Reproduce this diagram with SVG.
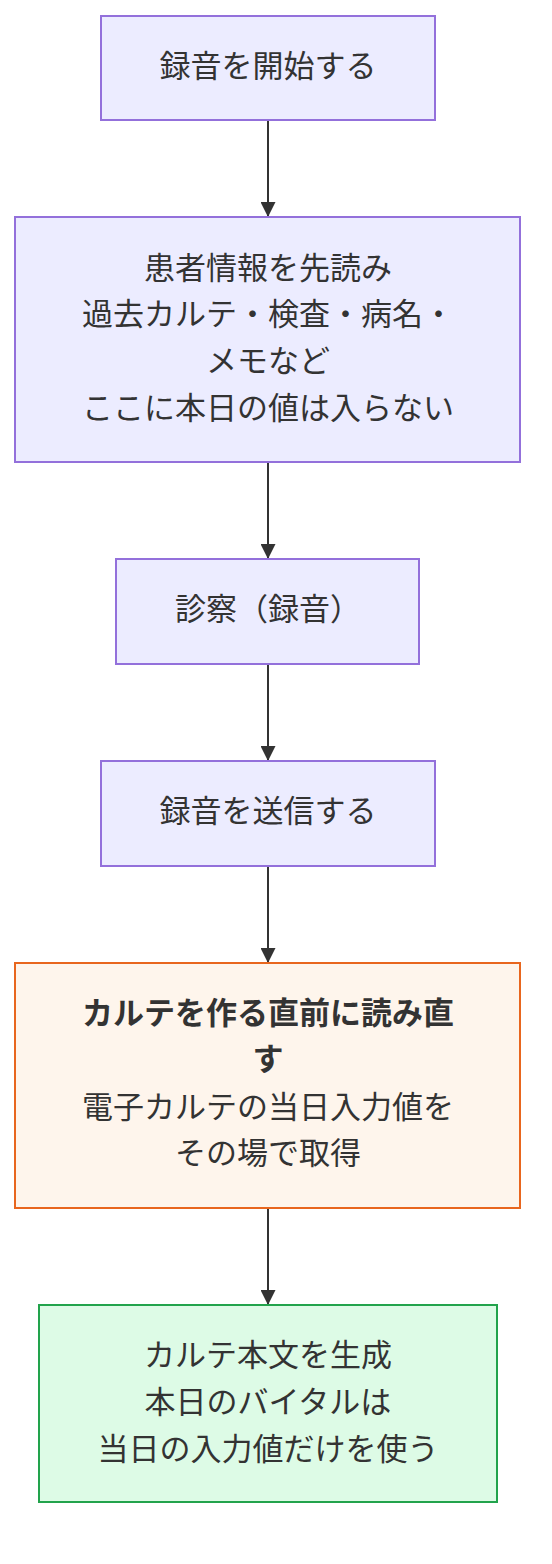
<svg xmlns="http://www.w3.org/2000/svg" width="552" height="1564" viewBox="0 0 552 1564">
<defs>
<style>
.box{fill:#ECECFF;stroke:#9370DB;stroke-width:2}
.warn{fill:#FEF5EC;stroke:#E8661E;stroke-width:2}
.ok{fill:#DDFBE6;stroke:#22A34C;stroke-width:2}
text{font-family:"Noto Sans CJK JP","Noto Sans CJK SC",sans-serif;font-size:31px;fill:#333;text-anchor:middle;dominant-baseline:central}
.b{font-weight:bold}
.edge{stroke:#333;stroke-width:2;fill:none}
</style>
<marker id="arr" markerWidth="15" markerHeight="15" refX="14" refY="7.5" orient="auto" markerUnits="userSpaceOnUse">
<path d="M0,0 L15,7.5 L0,15 Z" fill="#333"/>
</marker>
</defs>
<rect width="552" height="1564" fill="#fff"/>
<g id="edges">
<line class="edge" x1="268" y1="121" x2="268" y2="216" marker-end="url(#arr)"/>
<line class="edge" x1="268" y1="463" x2="268" y2="558" marker-end="url(#arr)"/>
<line class="edge" x1="268" y1="665" x2="268" y2="760" marker-end="url(#arr)"/>
<line class="edge" x1="268" y1="867" x2="268" y2="962" marker-end="url(#arr)"/>
<line class="edge" x1="268" y1="1209" x2="268" y2="1304" marker-end="url(#arr)"/>
</g>
<g id="n1">
<rect class="box" x="101" y="16" width="334" height="104"/>
<text x="268" y="63">録音を開始する</text>
</g>
<g id="n2">
<rect class="box" x="15" y="217" width="505" height="245"/>
<text x="268" y="265">患者情報を先読み</text>
<text x="268" y="311.5">過去カルテ・検査・病名・</text>
<text x="268" y="358">メモなど</text>
<text x="268" y="405">ここに本日の値は入らない</text>
</g>
<g id="n3">
<rect class="box" x="116" y="559" width="303" height="105"/>
<text x="268" y="606">診察（録音）</text>
</g>
<g id="n4">
<rect class="box" x="101" y="761" width="334" height="105"/>
<text x="268" y="808">録音を送信する</text>
</g>
<g id="n5">
<rect class="warn" x="15" y="963" width="505" height="245"/>
<text class="b" x="268" y="1010.5">カルテを作る直前に読み直</text>
<text class="b" x="268" y="1056">す</text>
<text x="268" y="1104">電子カルテの当日入力値を</text>
<text x="268" y="1150">その場で取得</text>
</g>
<g id="n6">
<rect class="ok" x="39" y="1305" width="458" height="197"/>
<text x="268" y="1352">カルテ本文を生成</text>
<text x="268" y="1399">本日のバイタルは</text>
<text x="268" y="1446">当日の入力値だけを使う</text>
</g>
</svg>
